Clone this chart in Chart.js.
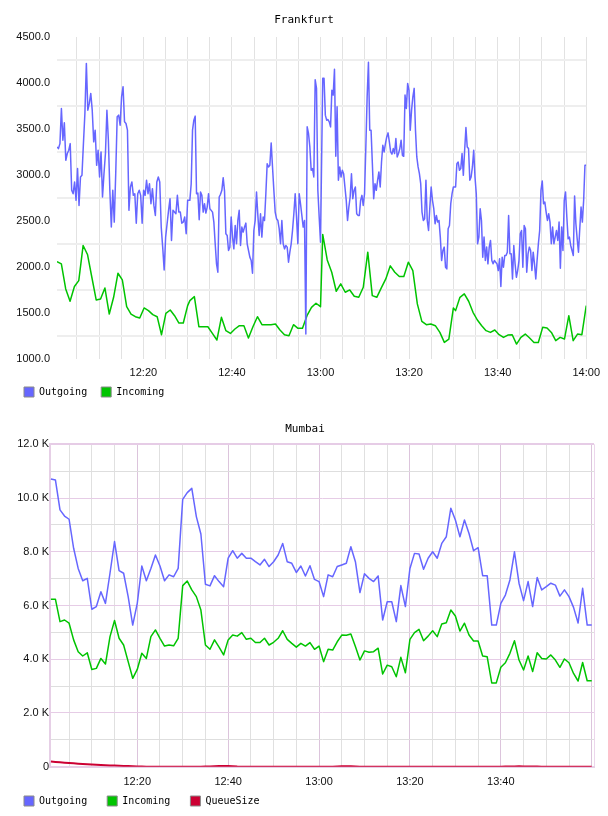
<!DOCTYPE html>
<html>
<head>
<meta charset="utf-8">
<title>Frankfurt / Mumbai traffic</title>
<script src="https://cdn.jsdelivr.net/npm/chart.js@4.4.0/dist/chart.umd.min.js"></script>
<style>
    html, body { margin: 0; padding: 0; background: #fff; }
    canvas { position: absolute; left: 0; display: block; }
    #fra { top: 0; }
    #mum { top: 407px; }
</style>
</head>
<body>
<canvas id="fra" width="608" height="407"></canvas>
<canvas id="mum" width="608" height="409"></canvas>
<script>
// x values are minutes after 12:00
const fraXTicks = [5, 10, 15, 20, 25, 30, 35, 40, 45, 50, 55, 60, 65, 70, 75, 80, 85, 90, 95, 100, 105, 110, 115, 120];
const fraYTicks = [1000, 1250, 1500, 1750, 2000, 2250, 2500, 2750, 3000, 3250, 3500, 3750, 4000, 4250, 4500];
const mumXTicks = [5, 10, 15, 20, 25, 30, 35, 40, 45, 50, 55, 60, 65, 70, 75, 80, 85, 90, 95, 100, 105, 110, 115, 120];
const mumYTicks = [0, 1000, 2000, 3000, 4000, 5000, 6000, 7000, 8000, 9000, 10000, 11000, 12000];

// Frankfurt, one array per half hour (Outgoing ~20s samples, Incoming ~1min)
const outgoing1200 = [3304, 3286, 3340, 3722, 3377, 3566, 3159, 3232, 3268, 3340,
    2832, 2795, 2923, 2723, 3068, 2668, 2977, 2995, 3340, 3668,
    4213, 3704, 3777, 3886, 3704, 3359, 3486, 3104, 3268, 2977,
    3250, 2759, 3013, 3232, 3704, 3377, 2832, 2432, 2832, 2486,
    3013, 3632, 3650, 3541, 3850, 3959, 3577, 3559, 3486, 2614,
    2868, 2923, 2777, 2795, 2475, 2795, 2832, 2777, 2475, 2832,
    2777, 2941, 2795, 2904, 2686, 2850, 2668, 2559, 2923, 2977,
    2923, 2432, 2214, 1966, 2323, 2468, 2614, 2741, 2286, 2614,
    2595, 2577, 2777, 2595, 2595, 2475, 2486, 2541, 2359, 2723];
const outgoing1230 = [2723, 2904, 3486, 3595, 3639, 2795, 2802, 2512, 2814, 2777,
    2595, 2686, 2584, 2650, 2795, 2632, 2614, 2595, 2486, 2250,
    2032, 1941, 2759, 2788, 2832, 2970, 2824, 2359, 2341, 2177,
    2214, 2541, 2323, 2195, 2450, 2250, 2504, 2614, 2232, 2432,
    2377, 2432, 2475, 2250, 2177, 2105, 2068, 1930, 2395, 2504,
    2814, 2559, 2341, 2577, 2323, 2541, 2504, 2795, 3122, 3086,
    3104, 3348, 3086, 2832, 2595, 2523, 2504, 2414, 2250, 2504,
    2250, 2195, 2232, 2214, 2050, 2159, 2250, 2395, 2577, 2795,
    2541, 2250, 2795, 2686, 2559, 2432, 2504, 1268, 3523, 3450,
    3304, 3050, 3068, 2977, 4036, 3941, 2832, 2541, 2268];
const outgoing1300 = [4050, 4050, 3650, 3595, 3602, 3577, 3522, 3922, 3868, 4148,
    3203, 3741, 2941, 3086, 2977, 3050, 3013, 2868, 2723, 2504,
    2650, 2759, 3013, 2741, 2832, 2868, 2577, 2559, 2559, 2723,
    2777, 2668, 2795, 3304, 3850, 4225, 3486, 3486, 3122, 2741,
    2904, 2832, 2941, 3032, 2868, 3140, 3322, 3250, 3340, 3413,
    3457, 3359, 3250, 3225, 3286, 3232, 3395, 3195, 3232, 3286,
    3377, 3213, 3202, 3868, 3722, 3995, 3922, 3486, 3704, 3850,
    3941, 3486, 3195, 3086, 3013, 2904, 2595, 2504, 2523, 2941,
    2504, 2395, 2650, 2868, 2723, 2632, 2468, 2559, 2486, 2504,
    2323, 2068, 2177, 2214, 1995, 1977, 2414, 2450, 2686, 2795,
    2868];
const outgoing1330 = [2868, 3122, 3140, 3050, 3068, 3232, 2995, 3268, 3515, 3304,
    3286, 2941, 2977, 3086, 3268, 2977, 2795, 2250, 2323, 2632,
    2504, 2105, 2323, 2068, 2214, 2032, 2214, 2286, 2068, 2032,
    2068, 2050, 2032, 1959, 2087, 1785, 2105, 1995, 2123, 2123,
    2159, 2559, 2141, 2141, 1868, 2232, 2032, 1886, 1959, 2068,
    2359, 2395, 1995, 2450, 2414, 1941, 2141, 2214, 2177, 1959,
    2159, 2032, 1868, 2068, 2250, 2395, 2832, 2934, 2686, 2704,
    2595, 2504, 2577, 2486, 2250, 2432, 2250, 2323, 2395, 2286,
    2486, 1984, 2432, 2177, 2723, 2814, 2541, 2304, 2323, 2232,
    2177, 2123, 2770, 2468, 2304, 2159, 2414, 2650, 2486, 2723,
    3104, 3104];

const incoming1200 = [2057, 2032, 1759, 1625, 1785, 1850, 2232, 2134, 1886, 1639,
    1650, 1770, 1486, 1668, 1930, 1857, 1566, 1486, 1457, 1443,
    1552, 1523, 1479, 1457, 1261, 1494, 1530, 1468, 1388, 1388, 1577];
const incoming1230 = [1632, 1675, 1348, 1348, 1348, 1275, 1203, 1450, 1305, 1275,
    1323, 1359, 1359, 1225, 1348, 1457, 1370, 1370, 1370, 1377,
    1312, 1261, 1250, 1370, 1330, 1330, 1468, 1559, 1603, 1566];
const incoming1300 = [2352, 2075, 1941, 1734, 1814, 1723, 1748, 1679, 1668, 1777,
    2159, 1686, 1668, 1770, 1868, 2010, 1941, 1894, 1894, 2050,
    1959, 1596, 1406, 1370, 1377, 1359, 1286, 1177, 1214, 1552];
const incoming1330 = [1523, 1668, 1705, 1625, 1505, 1421, 1359, 1305, 1286, 1312,
    1261, 1232, 1257, 1261, 1159, 1232, 1268, 1225, 1177, 1177,
    1341, 1334, 1286, 1196, 1232, 1214, 1468, 1196, 1268, 1261, 1577];

// Mumbai, one sample per minute from 12:01
const mumOutgoing = [10710, 10670, 9560, 9330, 9210, 8130, 7380, 6920, 7010, 5860,
    5960, 6510, 6080, 7200, 8380, 7300, 7200, 6330, 5270, 6080,
    7470, 6920, 7380, 7880, 7470, 6920, 7140, 7070, 7380, 9950,
    10200, 10360, 9310, 8660, 6790, 6730, 7110, 6890, 6700, 7760,
    8040, 7760, 7940, 7760, 7760, 7630, 7510, 7720, 7450, 7630,
    7880, 8310, 7630, 7570, 7230, 7470,
    7100, 7480, 6970, 6890, 6330, 7140, 7070, 7450, 7510, 7570,
    8190, 7630, 6480, 7180, 7010, 6890, 7100, 5460, 6140, 6140,
    5400, 6740, 5960, 7380, 7940, 7920, 7350, 7760, 8000, 7760,
    8310, 8560, 9620, 9180, 8560, 9180, 8680, 8040, 8150, 7110,
    7110, 5270, 5270, 6080, 6390, 6950, 8000, 6830, 6180, 6890,
    5960, 7040, 6580, 6700, 6830, 6760, 6350, 6580, 6330, 5930,
    5350, 6640, 5270, 5270];
const mumIncoming = [6230, 6230, 5400, 5460, 5340, 4720, 4280, 4120, 4240, 3620,
    3660, 4030, 3820, 4840, 5440, 4780, 4530, 3910, 3290, 3620,
    4220, 4030, 4840, 5090, 4780, 4490, 4530, 4500, 4780, 6740,
    6910, 6580, 6330, 5830, 4530, 4370, 4720, 4450, 4160, 4720,
    4900, 4860, 4990, 4740, 4780, 4620, 4620, 4780, 4530, 4630,
    4780, 5060, 4740, 4590, 4450, 4590,
    4490, 4620, 4370, 4490, 3910, 4370, 4340, 4650, 4900, 4890,
    4940, 4470, 3970, 4310, 4260, 4280, 4410, 3450, 3780, 3720,
    3350, 4070, 3500, 4740, 4990, 5110, 4690, 4860, 5060, 4840,
    5310, 5360, 5830, 5610, 5050, 5340, 4900, 4680, 4680, 4120,
    4090, 3120, 3120, 3700, 3870, 4220, 4690, 3970, 3600, 4120,
    3540, 4240, 4030, 4010, 4160, 3970, 3700, 4010, 3870, 3470,
    3190, 3880, 3200, 3200];
const mumQueue = [190, 178, 165, 150, 138, 125, 112, 100, 90, 80,
    70, 62, 55, 48, 42, 36, 30, 24, 18, 12,
    6, 2, 0, 0, 0, 0, 0, 0, 0, 0,
    0, 0, 0, 0, 5, 12, 20, 28, 30, 24,
    14, 5, 0, 0, 0, 0, 0, 0, 0, 0,
    0, 0, 0, 0, 0, 0, 0, 0, 0, 0,
    0, 0, 0, 8, 15, 18, 15, 8, 0, 0,
    0, 0, 0, 0, 0, 0, 0, 0, 0, 0,
    0, 0, 0, 0, 0, 0, 0, 0, 0, 0,
    0, 0, 0, 0, 0, 0, 0, 0, 0, 0,
    6, 10, 12, 14, 12, 10, 8, 5, 2, 0,
    0, 0, 0, 0, 0, 0, 0, 0, 0, 0];

// samples of one half-hour block (k = 0..3) spread across that block
function halfHour(values, k) {
    const t0 = 30 * k + 0.5, t1 = 30 * k + 30;
    const step = (t1 - t0) / (values.length - 1);
    return values.map((v, i) => ({ x: t0 + i * step, y: v }));
}
function perMinute(values, first) {
    return values.map((v, i) => ({ x: first + i, y: v }));
}
function clock(m) {
    const h = 12 + Math.floor(m / 60);
    return h + ':' + String(m % 60).padStart(2, '0');
}

const tickFont = { family: 'Liberation Sans', size: 11 };
const monoFont = { family: 'DejaVu Sans Mono', size: 11, weight: 'normal' };

function lineSet(label, data, color, width) {
    return { label: label, data: data, borderColor: color, backgroundColor: color,
        borderWidth: width, pointRadius: 0, tension: 0, borderJoinStyle: 'round', fill: false };
}
// legend entries sit in fixed-width columns, like the original
function legendOpts(colChars) {
    return {
        position: 'bottom', align: 'start',
        labels: {
            boxWidth: 10, boxHeight: 10, padding: 8,
            font: { family: 'DejaVu Sans Mono', size: 10 }, color: '#000',
            generateLabels: chart => chart.data.datasets.map((ds, i) => ({
                text: ds.label.padEnd(colChars), fillStyle: ds.borderColor, strokeStyle: '#8a8a8a',
                lineWidth: 1, fontColor: '#000', hidden: false, datasetIndex: i
            }))
        }
    };
}

new Chart(document.getElementById('fra'), {
    type: 'line',
    data: {
        datasets: [
            lineSet('Outgoing', [].concat(halfHour(outgoing1200, 0), halfHour(outgoing1230, 1),
                halfHour(outgoing1300, 2), halfHour(outgoing1330, 3)), '#6666ff', 1.5),
            lineSet('Incoming', [].concat(halfHour(incoming1200, 0), halfHour(incoming1230, 1),
                halfHour(incoming1300, 2), halfHour(incoming1330, 3)), '#00c400', 1.5)
        ]
    },
    options: {
        responsive: false, animation: false,
        layout: { padding: { left: 16, right: 16, top: 0, bottom: 0 } },
        scales: {
            x: {
                type: 'linear', min: 0.5, max: 120,
                afterBuildTicks: s => { s.ticks = fraXTicks.map(v => ({ value: v })); },
                afterFit: s => { s.height = 20.3; },
                ticks: { autoSkip: false, maxRotation: 0, padding: 8, color: '#111', font: tickFont,
                    callback: v => v % 20 === 0 ? clock(v) : '' },
                grid: { drawTicks: false, color: '#e2e2e2', lineWidth: 1 },
                border: { display: false }
            },
            y: {
                min: 1000, max: 4500,
                afterBuildTicks: s => { s.ticks = fraYTicks.map(v => ({ value: v })); },
                afterFit: s => { s.width = 41; },
                ticks: { autoSkip: false, padding: 7, color: '#111', font: tickFont,
                    callback: v => v % 500 === 0 ? v.toFixed(1) : '' },
                grid: { drawTicks: false, lineWidth: 2,
                    color: c => (c.tick && c.tick.value % 500 === 250) ? '#eeeeee' : 'rgba(0,0,0,0)' },
                border: { display: false }
            }
        },
        plugins: {
            title: { display: true, text: 'Frankfurt', color: '#000', font: monoFont,
                padding: { top: 13.4, bottom: 10.4 } },
            legend: legendOpts(9),
            tooltip: { enabled: false }
        }
    }
});

new Chart(document.getElementById('mum'), {
    type: 'line',
    data: {
        datasets: [
            lineSet('Outgoing', perMinute(mumOutgoing, 1), '#6666ff', 1.5),
            lineSet('Incoming', perMinute(mumIncoming, 1), '#00c400', 1.5),
            lineSet('QueueSize', perMinute(mumQueue, 1), '#cc0033', 2)
        ]
    },
    options: {
        responsive: false, animation: false,
        layout: { padding: { left: 16, right: 14, top: 0, bottom: 0 } },
        scales: {
            x: {
                type: 'linear', min: 0.8, max: 120.5,
                afterBuildTicks: s => {
                    s.ticks = mumXTicks.map(v => ({ value: v })).concat([{ value: s.max }]);
                },
                afterFit: s => { s.height = 21.3; },
                ticks: { autoSkip: false, maxRotation: 0, padding: 8.2, color: '#111', font: tickFont,
                    callback: v => (v % 20 === 0 && v < 120) ? clock(v) : '' },
                grid: { drawTicks: false, lineWidth: 1,
                    color: c => {
                        const v = c.tick ? c.tick.value : 0;
                        if (v === 120.5) return '#ecd6ec';
                        return v % 20 === 0 ? '#dcc4dc' : '#e0e0e0';
                    } },
                border: { display: true, color: '#e6cfe6', width: 2 }
            },
            y: {
                min: 0, max: 12000,
                afterBuildTicks: s => { s.ticks = mumYTicks.map(v => ({ value: v })); },
                afterFit: s => { s.width = 34; },
                ticks: { autoSkip: false, padding: 1, color: '#111', font: tickFont,
                    callback: v => v === 0 ? '0' : (v % 2000 === 0 ? (v / 1000).toFixed(1) + ' K' : '') },
                grid: { drawTicks: false,
                    lineWidth: c => (c.tick && c.tick.value === 12000) ? 2 : 1,
                    color: c => (c.tick && c.tick.value % 2000 === 0) ? '#e6cce6' : '#dedede' },
                border: { display: true, color: '#e6cfe6', width: 2 }
            }
        },
        plugins: {
            title: { display: true, text: 'Mumbai', color: '#000', font: monoFont,
                padding: { top: 15.7, bottom: 8.4 } },
            legend: legendOpts(10),
            tooltip: { enabled: false }
        }
    }
});
</script>
</body>
</html>
